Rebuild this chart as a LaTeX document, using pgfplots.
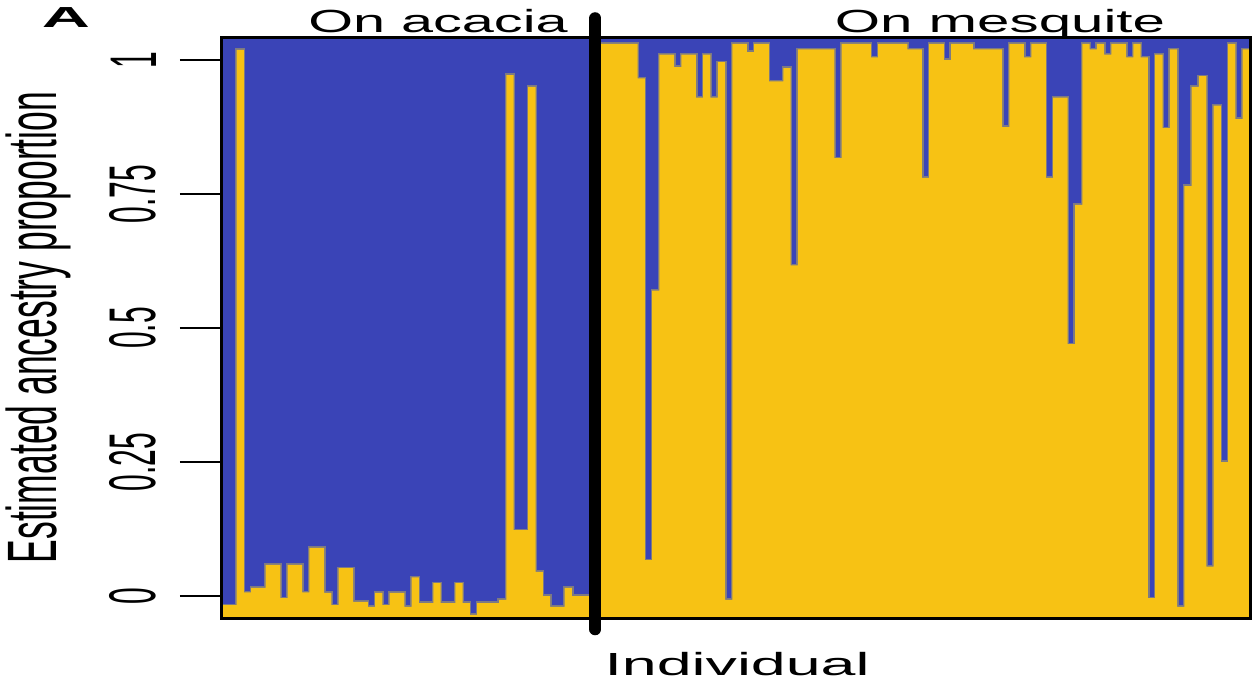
\documentclass[border=0pt]{standalone}
\usepackage{pgfplots}
\pgfplotsset{compat=1.18}
\usepackage{pgfplotstable}
\usepackage{fontspec}
\setmainfont{Liberation Sans}
\definecolor{yel}{RGB}{247,194,20}
\definecolor{blu}{RGB}{58,68,183}
\definecolor{barg}{RGB}{125,122,130}
\newcommand\tl[1]{\scalebox{1}[2.2]{#1}}
\pgfplotstableread{
i p top
0 -0.017 1.043
1 -0.017 1.043
2 1.019 1.043
3 0.007 1.043
4 0.015 1.043
5 0.015 1.043
6 0.058 1.043
7 0.058 1.043
8 -0.004 1.043
9 0.058 1.043
10 0.058 1.043
11 0.007 1.043
12 0.09 1.043
13 0.09 1.043
14 0.006 1.043
15 -0.017 1.043
16 0.052 1.043
17 0.052 1.043
18 -0.011 1.043
19 -0.011 1.043
20 -0.02 1.043
21 0.006 1.043
22 -0.017 1.043
23 0.006 1.043
24 0.006 1.043
25 -0.02 1.043
26 0.035 1.043
27 -0.013 1.043
28 -0.013 1.043
29 0.024 1.043
30 -0.013 1.043
31 -0.013 1.043
32 0.024 1.043
33 -0.013 1.043
34 -0.035 1.043
35 -0.013 1.043
36 -0.013 1.043
37 -0.013 1.043
38 -0.007 1.043
39 0.972 1.043
40 0.123 1.043
41 0.123 1.043
42 0.95 1.043
43 0.045 1.043
44 0.0 1.043
45 -0.02 1.043
46 -0.02 1.043
47 0.015 1.043
48 0.0 1.043
49 0.0 1.043
50 0.0 1.043
51 1.03 1.043
52 1.03 1.043
53 1.03 1.043
54 1.03 1.043
55 1.03 1.043
56 1.03 1.043
57 0.966 1.043
58 0.067 1.043
59 0.57 1.043
60 1.01 1.043
61 1.01 1.043
62 0.987 1.043
63 1.01 1.043
64 1.01 1.043
65 0.93 1.043
66 1.01 1.043
67 0.93 1.043
68 0.996 1.043
69 -0.007 1.043
70 1.03 1.043
71 1.03 1.043
72 1.015 1.043
73 1.03 1.043
74 1.03 1.043
75 0.96 1.043
76 0.96 1.043
77 0.985 1.043
78 0.617 1.043
79 1.02 1.043
80 1.02 1.043
81 1.02 1.043
82 1.02 1.043
83 1.02 1.043
84 0.817 1.043
85 1.03 1.043
86 1.03 1.043
87 1.03 1.043
88 1.03 1.043
89 1.005 1.043
90 1.03 1.043
91 1.03 1.043
92 1.03 1.043
93 1.03 1.043
94 1.02 1.043
95 1.02 1.043
96 0.78 1.043
97 1.03 1.043
98 1.03 1.043
99 1.0 1.043
100 1.03 1.043
101 1.03 1.043
102 1.03 1.043
103 1.02 1.043
104 1.02 1.043
105 1.02 1.043
106 1.02 1.043
107 0.875 1.043
108 1.03 1.043
109 1.03 1.043
110 1.005 1.043
111 1.03 1.043
112 1.03 1.043
113 0.78 1.043
114 0.93 1.043
115 0.93 1.043
116 0.47 1.043
117 0.73 1.043
118 1.03 1.043
119 1.02 1.043
120 1.03 1.043
121 1.01 1.043
122 1.03 1.043
123 1.03 1.043
124 1.005 1.043
125 1.03 1.043
126 1.005 1.043
127 -0.004 1.043
128 1.01 1.043
129 0.873 1.043
130 1.02 1.043
131 -0.02 1.043
132 0.765 1.043
133 0.95 1.043
134 0.97 1.043
135 0.055 1.043
136 0.915 1.043
137 0.25 1.043
138 1.03 1.043
139 0.89 1.043
140 1.02 1.043
}\anc
\begin{document}
\begin{tikzpicture}
\useasboundingbox (-111pt,-32pt) rectangle (517pt,309pt);
\begin{axis}[
  at={(0pt,0pt)}, anchor=south west,
  scale only axis, width=514pt, height=290.5pt,
  xmin=-0.5, xmax=140.5, ymin=-0.041, ymax=1.043,
  y coord trafo/.code={\pgfmathparse{#1+0.041}},
  y coord inv trafo/.code={\pgfmathparse{#1-0.041}},
  clip=false, axis on top,
  axis line style={line width=1.5pt, black},
  xtick=\empty,
  ytick={0,0.25,0.5,0.75,1},
  yticklabels={\tl{0},\tl{0.25},\tl{0.5},\tl{0.75},\tl{1}},
  ytick pos=left, tick align=outside, major tick length=21pt,
  tick style={line width=1pt, black},
  yticklabel style={rotate=90, anchor=south, inner xsep=0pt, inner ysep=11.5pt, font=\fontsize{15}{15}\selectfont},
  ylabel={\scalebox{1}[1.97]{Estimated ancestry proportion}},
  ylabel style={at={(axis description cs:-0.179,0.5)}, anchor=center, font=\fontsize{17.75}{18}\selectfont},
  xlabel={\scalebox{1.96}[1]{Individual}},
  xlabel style={at={(axis description cs:0.501,-0.0981)}, anchor=base, font=\fontsize{16}{16}\selectfont},
]
\addplot[ybar, bar width=1, bar shift=0pt, fill=blu, draw=none] table[x=i, y=top] {\anc};
\addplot[ybar, bar width=1, bar shift=0pt, fill=barg, draw=barg, line width=1.6pt] table[x=i, y=p] {\anc};
\addplot[ybar, bar width=1, bar shift=0pt, fill=yel, draw=none] table[x=i, y=p] {\anc};
\draw[line width=6pt, line cap=round] (axis cs:50.7,-0.062) -- (axis cs:50.7,1.078);
\node[anchor=base, font=\fontsize{16}{16}\selectfont] at (axis description cs:0.2101,1.0069) {\scalebox{1.8}[1]{On acacia}};
\node[anchor=base, font=\fontsize{16}{16}\selectfont] at (axis description cs:0.7568,1.0069) {\scalebox{1.82}[1]{On mesquite}};
\node[anchor=base, font=\bfseries\fontsize{14.5}{15}\selectfont] at (axis description cs:-0.1518,1.0155) {\scalebox{2.3}[1]{A}};
\end{axis}
\end{tikzpicture}
\end{document}
